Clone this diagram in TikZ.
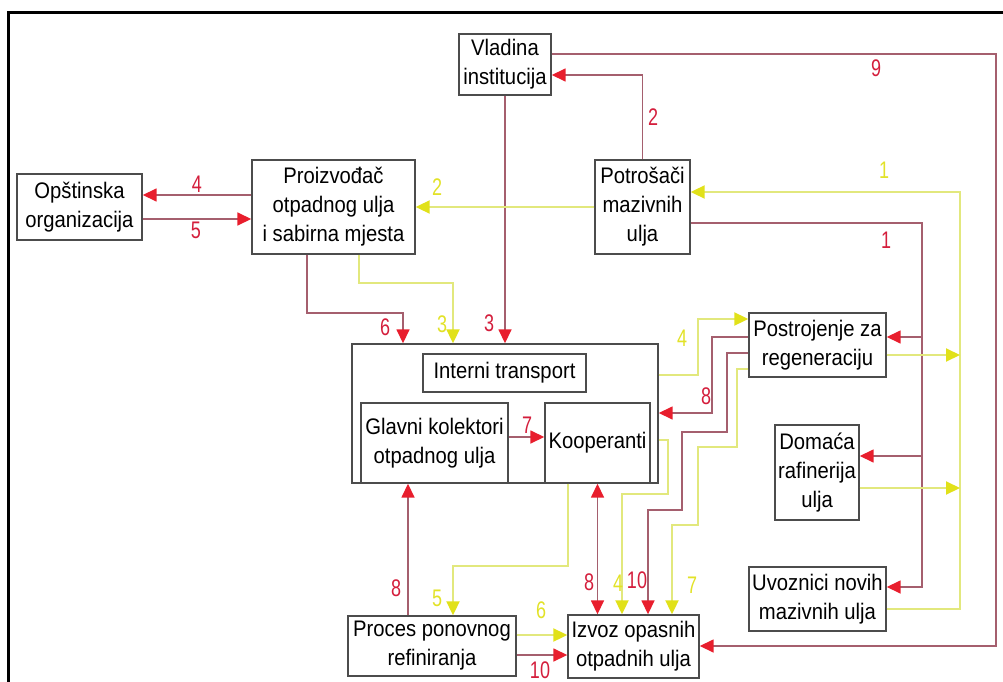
\documentclass[tikz,border=0pt]{standalone}
\usepackage{fontspec}
\setmainfont{Liberation Sans}[FakeStretch=0.9]
\newfontfamily\numfont{Liberation Sans}[FakeStretch=0.75]
\usetikzlibrary{arrows.meta}
\definecolor{linered}{RGB}{165,95,110}
\definecolor{lineyel}{RGB}{226,232,125}
\definecolor{tipred}{RGB}{232,30,45}
\definecolor{tipyel}{RGB}{225,225,25}
\definecolor{numred}{RGB}{212,30,60}
\definecolor{numyel}{RGB}{226,226,40}

\begin{document}
\begin{tikzpicture}[x=1pt,y=-1pt,
        blok/.style={draw=black!70,line width=1.4pt,fill=white,align=center,inner sep=0pt,
            font=\fontsize{22.5}{29}\selectfont},
        rl/.style={draw=linered,line width=1.6pt},
        yl/.style={draw=lineyel,line width=2pt},
        ra/.style={-{Triangle[length=14pt,width=13pt,color=tipred]}},
        ya/.style={-{Triangle[length=14pt,width=13pt,color=tipyel]}},
        numlab/.style={inner sep=0pt,font=\numfont\fontsize{24}{24}\selectfont}]
    \useasboundingbox (0,0) rectangle (1003,682);
    \draw[line width=3pt] (1003,13) -- (8,13) -- (8,682);

    % blocks
    \node[blok,minimum width=92,minimum height=61] (vlada) at (505,64.5) {Vladina\\institucija};
    \node[blok,minimum width=125,minimum height=66] (opstina) at (79.5,207) {Opštinska\\organizacija};
    \node[blok,minimum width=163,minimum height=94] (proizv) at (333.5,207) {Proizvođač\\otpadnog ulja\\i sabirna mjesta};
    \node[blok,minimum width=95,minimum height=94] (potros) at (642.5,207) {Potrošači\\mazivnih\\ulja};
    \node[blok,minimum width=306,minimum height=139] (intern) at (505,413.5) {};
    \node[blok,minimum width=163,minimum height=38] (transp) at (504.5,373) {Interni transport};
    \node[blok,minimum width=147,minimum height=80] (glavni) at (434.5,443) {Glavni kolektori\\otpadnog ulja};
    \node[blok,minimum width=105,minimum height=80] (koop) at (597.5,443) {Kooperanti};
    \node[blok,minimum width=137,minimum height=64] (postr) at (817.5,345) {Postrojenje za\\regeneraciju};
    \node[blok,minimum width=84,minimum height=95] (domaca) at (817,472.5) {Domaća\\rafinerija\\ulja};
    \node[blok,minimum width=137,minimum height=64] (uvoz) at (817.5,599) {Uvoznici novih\\mazivnih ulja};
    \node[blok,minimum width=131,minimum height=63] (izvoz) at (633.5,646.5) {Izvoz opasnih\\otpadnih ulja};
    \node[blok,minimum width=168,minimum height=60] (proces) at (432,646) {Proces ponovnog\\refiniranja};

    % red flows
    \draw[rl,ra] (vlada.east |- 0,54) -| (996,646) -- (izvoz.east |- 0,646);
    \draw[rl,ra] (potros.north) |- (vlada.east |- 0,75);
    \draw[rl,ra] (vlada.south) -- (vlada.south |- intern.north);
    \draw[rl,ra] (proizv.west |- 0,195) -- (opstina.east |- 0,195);
    \draw[rl,ra] (opstina.east |- 0,219) -- (proizv.west |- 0,219);
    \draw[rl,ra] (proizv.south -| 307,0) |- (403,313) -- (intern.north -| 403,0);
    \draw[rl,ra] (potros.east |- 0,223) -| (922,587) -- (uvoz.east |- 0,587);
    \draw[rl,ra] (922,337) -- (postr.east |- 0,337);
    \draw[rl,ra] (922,456) -- (domaca.east |- 0,456);
    \draw[rl,ra] (postr.west |- 0,337) -| (712,413) -- (intern.east |- 0,413);
    \draw[rl,ra] (postr.west |- 0,353) -| (727,432) -| (682,510) -| (izvoz.north -| 648,0);
    \draw[rl,{Triangle[length=14pt,width=13pt,color=tipred]}-{Triangle[length=14pt,width=13pt,color=tipred]}]
        (koop.south) -- (koop.south |- izvoz.north);
    \draw[rl,ra] (proces.north -| 408,0) -- (intern.south -| 408,0);
    \draw[rl,ra] (proces.east |- 0,655) -- (izvoz.west |- 0,655);
    \draw[rl,ra] (glavni.east |- 0,437) -- (koop.west |- 0,437);

    % yellow flows
    \draw[yl,ya] (potros.west) -- (proizv.east);
    \draw[yl,ya] (proizv.south -| 359,0) |- (453,283) -- (intern.north -| 453,0);
    \draw[yl,ya] (uvoz.east |- 0,609) -| (960,192) -- (potros.east |- 0,192);
    \draw[yl,ya] (postr.east |- 0,355) -- (960,355);
    \draw[yl,ya] (domaca.east |- 0,488) -- (960,488);
    \draw[yl,ya] (intern.east |- 0,375) -| (698,319) -- (postr.west |- 0,319);
    \draw[yl,ya] (postr.west |- 0,369) -| (737,447) -| (698,525) -| (izvoz.north -| 672,0);
    \draw[yl,ya] (intern.east |- 0,440) -| (668,494) -| (izvoz.north -| 622,0);
    \draw[yl,ya] (intern.south -| 568,0) |- (453,566) -- (proces.north -| 453,0);
    \draw[yl,ya] (proces.east |- 0,635) -- (izvoz.west |- 0,635);

    % flow numbers
    \foreach \t/\p/\c [count=\i] in {9/{876,68}/numred, 2/{653,117}/numred, 1/{884,170}/numyel,
            1/{886,240}/numred, 4/{197,184}/numred, 5/{196,230}/numred, 2/{437,187}/numyel,
            6/{385,327}/numred, 3/{442,324}/numyel, 3/{489,323}/numred, 4/{682,338}/numyel,
            8/{706,396}/numred, 7/{527,425}/numred, 8/{396,588}/numred, 5/{437,598}/numyel,
            6/{541,610}/numyel, 10/{540,670}/numred, 8/{589,582}/numred, 4/{618,583}/numyel,
            10/{637,580}/numred, 7/{692,585}/numyel}
        \node[numlab,text=\c] (lab\i) at (\p) {\t};
\end{tikzpicture}
\end{document}
